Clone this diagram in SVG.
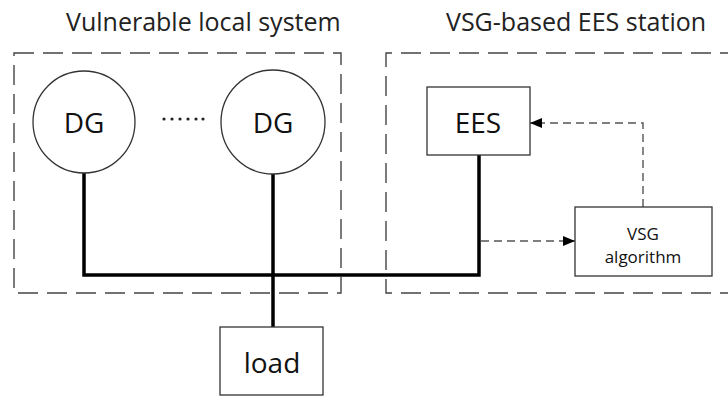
<svg xmlns="http://www.w3.org/2000/svg" width="728" height="396" viewBox="0 0 728 396">
  <style>
    .title { font-family: "Open Sans", "Noto Sans", sans-serif; font-size: 25px; fill: #222; }
    .lbl { font-family: "Open Sans", "Noto Sans", sans-serif; fill: #111; text-anchor: middle; }
    .region { fill: none; stroke: #444; stroke-width: 1.4; stroke-dasharray: 20 9; }
    .node { fill: #fff; stroke: #333; stroke-width: 1.3; }
    .bus { fill: none; stroke: #000; stroke-width: 3.5; }
    .ctl { fill: none; stroke: #555; stroke-width: 1.4; stroke-dasharray: 8 5; }
  </style>
  <defs>
    <marker id="tri" viewBox="0 0 12 10" refX="12" refY="5" markerWidth="12" markerHeight="10" markerUnits="userSpaceOnUse" orient="auto">
      <path d="M0,0 L12,5 L0,10 Z" fill="#000"/>
    </marker>
  </defs>
  <rect width="728" height="396" fill="#fff"/>

  <!-- region frames and titles -->
  <g id="region-local">
    <text class="title" x="66" y="31">Vulnerable local system</text>
    <rect class="region" x="14" y="53" width="327" height="240"/>
  </g>
  <g id="region-station">
    <text class="title" x="446" y="31">VSG-based EES station</text>
    <path class="region" d="M740,53 H386 V293 H740"/>
  </g>

  <!-- power lines and control signals -->
  <g id="connectors">
    <path class="bus" d="M84,173 V275 H479 V155"/>
    <path class="bus" d="M273,174 V327"/>
    <path class="ctl" d="M481,241 H575" marker-end="url(#tri)"/>
    <path class="ctl" d="M643,207 V123 H530" marker-end="url(#tri)"/>
  </g>

  <g id="dg1">
    <circle class="node" cx="84" cy="122" r="51"/>
    <text class="lbl" x="84" y="133" font-size="28">DG</text>
  </g>
  <g id="ellipsis">
    <g fill="#222">
      <circle cx="164" cy="119" r="1.6"/><circle cx="172" cy="119" r="1.6"/><circle cx="180" cy="119" r="1.6"/>
      <circle cx="188" cy="119" r="1.6"/><circle cx="196" cy="119" r="1.6"/><circle cx="203" cy="119" r="1.6"/>
    </g>
  </g>
  <g id="dg2">
    <circle class="node" cx="273" cy="122" r="52"/>
    <text class="lbl" x="273" y="133" font-size="28">DG</text>
  </g>
  <g id="ees">
    <rect class="node" x="427" y="87" width="103" height="68"/>
    <text class="lbl" x="478" y="133" font-size="28">EES</text>
  </g>
  <g id="vsg">
    <rect class="node" x="575" y="207" width="137" height="69"/>
    <text class="lbl" x="643" y="240" font-size="17">VSG</text>
    <text class="lbl" x="643" y="263" font-size="17">algorithm</text>
  </g>
  <g id="load">
    <rect class="node" x="220" y="327" width="103" height="68"/>
    <text class="lbl" x="272" y="373" font-size="28">load</text>
  </g>
</svg>
